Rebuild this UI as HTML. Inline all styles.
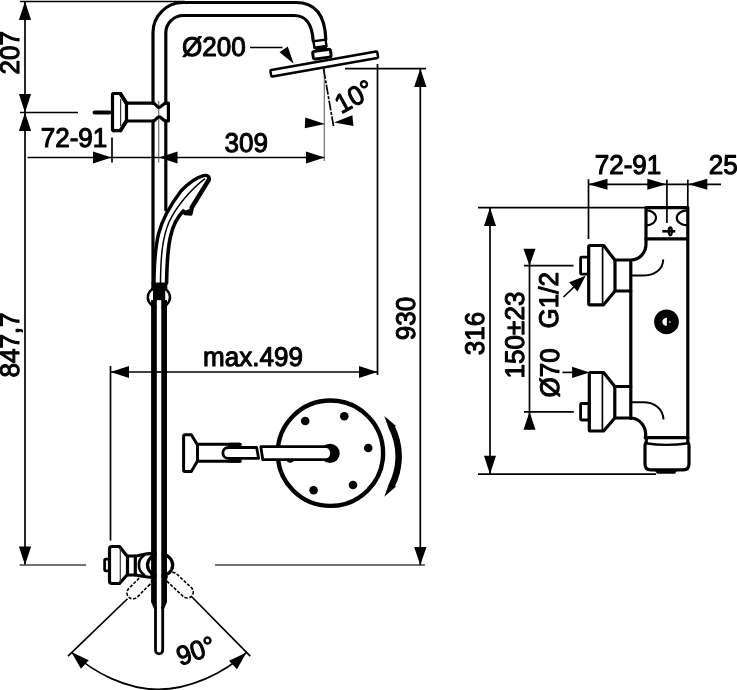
<!DOCTYPE html>
<html><head><meta charset="utf-8"><title>Dimension drawing</title>
<style>
html,body{margin:0;padding:0;background:#fff;}
svg{display:block;}
text{text-rendering:geometricPrecision;font-family:"Liberation Sans",sans-serif;font-size:27px;fill:#000;stroke:#000;stroke-width:1.1px;stroke-linejoin:round;}
.t{stroke:#000;stroke-width:1.7;fill:none;}
.g{stroke:#555;stroke-width:1;fill:none;}
.k{stroke:#000;stroke-width:3.2;fill:none;stroke-linejoin:round;stroke-linecap:round;}
.k2{stroke:#000;stroke-width:2.2;fill:none;stroke-linejoin:round;}
.k4{stroke:#000;stroke-width:4;fill:none;stroke-linecap:round;}
.g3{stroke:#444;stroke-width:1.3;fill:none;}
.g2{stroke:#000;stroke-width:1.7;fill:none;stroke-dasharray:10 1.5 3 1.5;}
.kk{stroke:#000;stroke-width:4.5;fill:none;stroke-linecap:round;}
.f{fill:#000;stroke:none;}
.w{fill:#fff;stroke:none;}
.d{stroke:#000;stroke-width:1.6;fill:#fff;stroke-dasharray:3.2 1.6;}
</style></head>
<body>
<svg width="737" height="690" viewBox="0 0 737 690">
<rect width="737" height="690" fill="#fff"/>
<g style="opacity:0.999">
<line class="t" x1="20.00" y1="1.50" x2="185.00" y2="1.50" />
<line class="t" x1="25.00" y1="1.50" x2="25.00" y2="565.00" />
<polygon class="f" points="25.00,1.50 31.10,20.00 18.90,20.00"/>
<polygon class="f" points="25.00,112.50 18.90,94.00 31.10,94.00"/>
<polygon class="f" points="25.00,112.50 31.10,131.00 18.90,131.00"/>
<polygon class="f" points="25.00,565.00 18.90,546.50 31.10,546.50"/>
<line class="t" x1="20.00" y1="112.50" x2="78.00" y2="112.50" />
<line class="k" x1="94.50" y1="112.50" x2="109.50" y2="112.50" style="stroke-width:3.8"/>
<line class="g3" x1="19.50" y1="565.00" x2="86.00" y2="565.00" />
<line class="g3" x1="215.00" y1="565.00" x2="425.00" y2="565.00" />
<text text-anchor="middle" transform="translate(19.00,52.80) rotate(-90) scale(0.965,1)">207</text>
<text text-anchor="middle" transform="translate(19.30,345.00) rotate(-90) scale(0.965,1)">847,7</text>
<line class="t" x1="27.50" y1="157.50" x2="324.50" y2="157.50" />
<polygon class="f" points="111.50,157.50 93.00,163.60 93.00,151.40"/>
<polygon class="f" points="159.00,157.50 177.50,151.40 177.50,163.60"/>
<polygon class="f" points="324.50,157.50 306.00,163.60 306.00,151.40"/>
<line class="t" x1="112.00" y1="137.50" x2="112.00" y2="162.50" />
<line class="g" x1="158.75" y1="101.00" x2="158.75" y2="162.50" />
<line class="g" x1="324.25" y1="62.50" x2="324.25" y2="161.00" />
<text text-anchor="middle" transform="translate(74.00,147.00) rotate(0) scale(0.965,1)">72-91</text>
<text text-anchor="middle" transform="translate(246.30,152.00) rotate(0) scale(0.965,1)">309</text>
<text text-anchor="middle" transform="translate(213.80,55.50) rotate(0) scale(0.965,1)">Ø200</text>
<line class="t" x1="250.00" y1="47.50" x2="282.50" y2="47.50" />
<polygon class="f" points="293.70,63.80 279.57,52.33 287.76,46.60"/>
<line class="g2" x1="323.60" y1="69.00" x2="333.60" y2="126.50" />
<polygon class="f" points="325.00,124.00 304.74,128.35 305.31,117.56"/>
<polygon class="f" points="334.00,122.50 352.33,115.14 353.46,125.88"/>
<text text-anchor="middle" transform="translate(358.60,104.60) rotate(-29) scale(0.965,1)">10°</text>
<line class="t" x1="345.00" y1="68.60" x2="426.00" y2="68.60" />
<line class="t" x1="377.50" y1="64.00" x2="377.50" y2="375.00" />
<line class="t" x1="420.30" y1="68.60" x2="420.30" y2="565.00" />
<polygon class="f" points="420.30,68.60 426.50,87.10 414.10,87.10"/>
<polygon class="f" points="420.30,565.00 414.10,547.00 426.50,547.00"/>
<text text-anchor="middle" transform="translate(415.30,318.50) rotate(-90) scale(0.965,1)">930</text>
<line class="t" x1="110.50" y1="372.00" x2="377.50" y2="372.00" />
<polygon class="f" points="110.50,372.00 129.00,365.90 129.00,378.10"/>
<polygon class="f" points="377.50,372.00 359.00,378.10 359.00,365.90"/>
<line class="t" x1="110.50" y1="366.00" x2="110.50" y2="540.60" />
<text text-anchor="middle" transform="translate(253.00,365.50) rotate(0) scale(0.965,1)">max.499</text>
<line class="t" x1="127.50" y1="598.75" x2="68.00" y2="656.20" />
<line class="t" x1="191.00" y1="596.00" x2="250.20" y2="656.20" />
<path class="t" d="M71.3,652 C94,673.1 127,689.4 158,689.4 C189,689.4 223.9,673.6 246.5,652.4" />
<polygon class="f" points="71.30,652.00 88.81,660.31 80.93,668.83"/>
<polygon class="f" points="246.50,652.40 236.98,669.29 229.04,660.84"/>
<text text-anchor="middle" transform="translate(198.80,659.50) rotate(-19) scale(0.965,1)">90°</text>
<path class="k" d="M153,283 L153,121 M153,103.2 L153,32.5 A30,30 0 0 1 183,2.5 L296,2.5 C314,2.5 325,14 325.8,39.5" />
<path class="k" d="M165.8,210 L165.8,121 M165.8,103.2 L165.8,33 A17.5,17.5 0 0 1 183.3,15.5 L294,15.5 C305,15.5 312,22 313.2,41" />
<g transform="translate(320,43.6) rotate(-8)"><rect x="-6.1" y="-3.2" width="12.2" height="6.4" style="fill:#fff;stroke:#000;stroke-width:2.4"/></g>
<g transform="translate(321.9,54.2) rotate(-8)"><rect x="-6" y="-7.5" width="12" height="4" class="f"/><rect x="-9" y="-3.9" width="18" height="7.8" rx="2.2" style="fill:#fff;stroke:#000;stroke-width:3"/></g>
<g transform="translate(324,64.0) rotate(-10)"><rect x="-54" y="-3.3" width="108.5" height="6.6" rx="1" style="fill:#fff;stroke:#000;stroke-width:2.5;stroke-linejoin:round"/></g>
<path class="k" d="M113.5,93.5 L120.6,93.5 M126.5,103.2 L153,103.2 M113.5,130.7 L120.6,130.7 M126.5,121 L153,121 M112.5,94.5 L112.5,129.5 M126.5,103.2 L126.5,121" />
<path class="k4" d="M120.6,94 L126.3,103 M120.6,130.2 L126.3,121.2" />
<path class="k" d="M112.5,95 Q112.5,93.5 114,93.5 M112.5,129.2 Q112.5,130.7 114,130.7" />
<line class="g" x1="120.60" y1="99.00" x2="120.60" y2="126.00" style="stroke:#333;stroke-width:1.2"/>
<path class="k" d="M153,103.2 C156,103.2 156.5,107.3 159,107.3 C161.5,107.3 163,103.4 166,103.2 L168.4,103.2 L168.4,121 L166,121 C163,121 161.5,116.8 159,116.8 C156.5,116.8 156,121 153,121" />
<path class="k" d="M154.0,283 C154.2,262 155.2,248 158.5,234 C162,220 170,205.5 181,191 C189,182.5 197,177.3 203.5,175.6 C207.5,174.7 210.3,177 209,180.5" style="stroke-width:3.4"/>
<path class="k" d="M166.6,283 C166.8,265 167.5,250 170.5,236.5 C172.5,227 176,218.5 183.3,211 L185,213.4 L190.8,214 L191.8,209.5" style="stroke-width:3.6"/>
<path class="kk" d="M208.9,179.6 L191.6,207.8" />
<path class="f" d="M184,211 L185,213.6 L190.9,214.2 L192.5,208 Z" />
<path class="t" d="M160.5,283 C160.7,255 162.5,238 169,222 C176,207 190,190 205,178.6" style="stroke-width:1.5"/>
<ellipse cx="158.9" cy="297.3" rx="11.1" ry="10.2" style="fill:#fff;stroke:#000;stroke-width:2.5"/>
<rect class="f" x="151.3" y="282.5" width="16" height="8"/>
<rect class="f" x="153" y="288" width="12.2" height="12.5"/>
<g transform="translate(149.2,576.6) rotate(135)"><rect class="d" x="-1" y="-6" width="30" height="12" rx="6"/></g>
<g transform="translate(169,575) rotate(43)"><rect class="d" x="-1" y="-6" width="32" height="12" rx="6"/></g>
<rect class="k" x="104.6" y="559.2" width="5.5" height="11.6" rx="1.2" style="fill:#fff;stroke-width:2.7"/>
<path class="k" d="M112,546.5 L119.5,546.5 L127,556 L136,556 C141,555 146,553.5 152,553.3 L152,577.3 C146,577.3 141,576 136,575 L127,575 L119.5,583.5 L112,583.5 Q109.5,583.5 109.5,581 L109.5,549 Q109.5,546.5 112,546.5 Z" style="fill:#fff"/>
<path class="k" d="M127.5,556 L127.5,575 M135.3,556 L135.3,575" />
<line class="g" x1="120.30" y1="548.00" x2="120.30" y2="582.00" style="stroke:#333;stroke-width:1.2"/>
<ellipse class="k" cx="160.1" cy="565" rx="12.6" ry="11.2" style="fill:#fff"/>
<path class="k" d="M144.3,555.2 A11,11.5 0 0 0 144.3,575" style="stroke-width:2.6"/>
<rect x="156.7" y="300.3" width="4.8" height="300" style="fill:#fff"/>
<rect class="f" x="151.1" y="300" width="5.7" height="302"/>
<rect class="f" x="161.3" y="300" width="5.7" height="302"/>
<path class="f" d="M151.1,602 L154.1,609 L156.8,609 L156.8,602 Z M167,602 L164,609 L161.3,609 L161.3,602 Z" />
<path class="k2" d="M155.5,606 L155.5,650.2 A3.6,3.6 0 0 0 162.7,650.2 L162.7,606" style="stroke-width:2.8"/>
<line class="t" x1="156.80" y1="372.00" x2="161.30" y2="372.00" />
<circle cx="330.4" cy="453.2" r="52.7" style="fill:none;stroke:#000;stroke-width:4.4"/>
<circle class="f" cx="305.2" cy="421.0" r="4.3"/>
<circle class="f" cx="344.3" cy="416.2" r="4.3"/>
<circle class="f" cx="368.2" cy="448.0" r="4.3"/>
<circle class="f" cx="353.0" cy="485.0" r="4.3"/>
<circle class="f" cx="313.6" cy="490.3" r="4.3"/>
<circle class="f" cx="290.3" cy="458.4" r="4.3"/>
<circle class="f" cx="330" cy="453.4" r="9.7"/>
<path class="k" d="M260.8,446.7 L326,446.7 A5.6,6.5 0 0 1 326,459.7 L262.8,459.7 Z" style="fill:#fff;stroke-width:2.8"/>
<path class="k" d="M197.5,444.3 L240,444.3 M197.5,461.3 L240,461.3" style="stroke-width:3"/>
<path class="k" d="M229,444.5 L240,444.5 M229,461.1 L240,461.1" style="stroke-width:3.5"/>
<path class="k" d="M256.6,447.5 L228.3,447.5 A5.4,5.4 0 0 0 228.3,458.3 L258.6,458.3 Z" style="fill:#fff;stroke-width:2.8"/>
<path class="k" d="M185,434.8 L191.3,434.8 L197.5,445 L197.5,461 L191.3,471.4 L185,471.4 Q183.6,471.4 183.6,470 L183.6,436.2 Q183.6,434.8 185,434.8 Z" style="fill:#fff;stroke-width:3"/>
<path class="f" d="M394.50,425.52 A67.9,67.9 0 0 1 394.50,487.18 L388.71,484.23 A61.4,61.4 0 0 0 388.71,428.47 Z" />
<polygon class="f" points="384.27,415.93 396.02,426.10 388.95,428.95"/>
<polygon class="f" points="384.27,496.77 396.02,486.60 388.95,483.75"/>
<line class="t" x1="478.00" y1="207.60" x2="646.00" y2="207.60" />
<line class="t" x1="490.00" y1="207.60" x2="490.00" y2="474.00" />
<polygon class="f" points="490.00,207.60 496.00,226.10 484.00,226.10"/>
<polygon class="f" points="490.00,474.20 484.00,455.70 496.00,455.70"/>
<line class="t" x1="478.00" y1="474.20" x2="656.00" y2="474.20" />
<text text-anchor="middle" transform="translate(484.40,333.60) rotate(-90) scale(0.965,1)">316</text>
<text text-anchor="middle" transform="translate(524.40,335.00) rotate(-90) scale(0.965,1)">150±23</text>
<line class="t" x1="529.50" y1="249.00" x2="529.50" y2="430.00" />
<polygon class="f" points="529.50,265.70 523.50,248.70 535.50,248.70"/>
<polygon class="f" points="529.50,411.80 535.50,429.80 523.50,429.80"/>
<line class="t" x1="524.00" y1="265.70" x2="573.50" y2="265.70" />
<line class="t" x1="524.00" y1="411.80" x2="573.80" y2="411.80" />
<text text-anchor="middle" transform="translate(557.90,300.20) rotate(-90) scale(0.965,1)">G1/2</text>
<text text-anchor="middle" transform="translate(558.50,372.80) rotate(-90) scale(0.965,1)">Ø70</text>
<line class="t" x1="563.60" y1="297.00" x2="576.00" y2="285.00" />
<polygon class="f" points="585.60,275.80 577.55,291.52 569.12,282.16"/>
<line class="t" x1="562.50" y1="372.40" x2="574.00" y2="372.40" />
<polygon class="f" points="589.60,372.40 572.10,378.10 572.10,366.70"/>
<line class="t" x1="588.50" y1="184.30" x2="721.00" y2="184.30" />
<polygon class="f" points="588.50,184.30 607.50,178.80 607.50,189.80"/>
<polygon class="f" points="666.30,184.30 647.30,189.80 647.30,178.80"/>
<polygon class="f" points="688.30,184.30 707.30,178.80 707.30,189.80"/>
<line class="t" x1="588.50" y1="179.30" x2="588.50" y2="239.00" />
<line class="t" x1="666.90" y1="179.70" x2="666.90" y2="223.00" />
<line class="t" x1="687.80" y1="179.70" x2="687.80" y2="208.00" />
<text text-anchor="middle" transform="translate(628.00,173.90) rotate(0) scale(0.965,1)">72-91</text>
<text text-anchor="start" transform="translate(708.80,173.90) rotate(0) scale(0.965,1)">25</text>
<path class="k" d="M646,207.6 L687.8,207.6 L687.8,437.6 M646,207.6 L646,238.9 L687.8,238.9" />
<path class="k" d="M646,238.9 L646,243.5 A15,16 0 0 1 631,260 L615,260 M630.8,260 L630.8,418.5" />
<path class="k2" d="M646.5,210.4 A9.5,7.5 0 0 1 646.5,225.4 M687.3,210.4 A10.5,7.5 0 0 0 687.3,225.4" />
<line class="k" x1="662.30" y1="231.30" x2="675.30" y2="231.30" style="stroke-linecap:butt;stroke-width:2.6"/>
<ellipse class="k2" cx="670.3" cy="231.3" rx="1.6" ry="4" />
<rect class="k" x="580.6" y="257.2" width="8" height="17" rx="1" style="stroke-width:2.8"/>
<path class="k" d="M590,245.5 L603.6,245.5 L615,260.3 L615,291 L603.6,304.8 L590,304.8 Q588.7,304.8 588.7,303.5 L588.7,247 Q588.7,245.5 590,245.5 Z" />
<line class="t" x1="602.60" y1="247.00" x2="602.60" y2="303.50" />
<path class="k" d="M615,291 L630.8,291" />
<path class="t" d="M663.2,259.4 C663,270 654,275.6 642,275.6 L632,275.6" style="stroke-width:2"/>
<path class="t" d="M631,402.3 L643,402.3 C655,402.3 663,409 663.5,419.5" style="stroke-width:2"/>
<circle class="f" cx="666.5" cy="321.85" r="12.4"/>
<path class="w" d="M666.9,317.8 A4.6,4 0 0 0 666.9,325.8 Z" />
<circle cx="669.8" cy="321.9" r="1" style="fill:#aaa"/>
<rect class="k" x="580.6" y="403.5" width="8.5" height="16.5" rx="1" style="stroke-width:2.8"/>
<path class="k" d="M590.5,372.5 L603.6,372.5 L614.8,386.5 L614.8,418 L603.6,431 L590.5,431 Q589.3,431 589.3,429.8 L589.3,374 Q589.3,372.5 590.5,372.5 Z" />
<line class="t" x1="602.40" y1="374.00" x2="602.40" y2="430.00" />
<path class="k" d="M614.8,386.5 L630.8,386.5 M614.8,418 L631,418 A15,17 0 0 1 645.5,437.6" />
<path class="k" d="M645.2,437.6 L687.8,437.6" />
<path class="k" d="M645.6,443.2 Q666,446.6 688.4,443.2" style="stroke-width:2.4"/>
<path class="k" d="M646.3,437.6 L646.3,442.5 Q645,443.5 645,445.5 L645,464 Q645,469.9 651,469.9 L683,469.9 Q689,469.9 689,464 L689,445.5 Q689,443.5 687.8,442.5 L687.8,437.6" />
<path class="f" d="M654.5,470 L677.5,470 L675,473.8 L657,473.8 Z" />
</g>
</svg>
</body></html>
